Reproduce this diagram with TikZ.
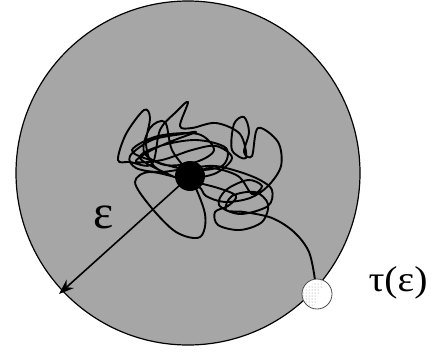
\documentclass[tikz,border=0pt]{standalone}
\usepackage{fontspec}
\setmainfont{Liberation Serif}
\usetikzlibrary{arrows.meta,patterns,calc}
\definecolor{ballGray}{RGB}{166,166,166}

\begin{document}
\begin{tikzpicture}[
    x=1pt, y=-1pt,
    walk/.style={line width=1.9pt, line join=round},
    >={Stealth[length=15pt,width=11pt]}
  ]
  \useasboundingbox (0,0) rectangle (435,356);
  % the ball
  \node[circle, draw, line width=1.2pt, fill=ballGray, minimum size=344pt, inner sep=0pt]
    (ball) at (188,173) {};
  % the wandering path
  \draw[walk] plot[smooth, tension=0.55] coordinates {
    (190,176) (210,168) (238,176) (252,194) (262,186) (248,180) (226,190)
    (219,205) (240,214) (268,206) (272,190) (260,180) (240,172) (215,166)
    (190,168) (160,172) (136,168) (130,156) (152,140) (182,134) (196,132)
    (172,141) (148,152) (136,162) (162,160) (192,150) (216,146) (232,158)
    (214,174) (180,178) (154,166) (146,144) (150,118) (144,110) (126,134)
    (118,160) (130,162) (152,164) (160,130) (176,112) (188,102) (180,126)
    (192,128) (216,123) (240,134) (246,158) (232,150) (234,124) (244,117)
    (249,132) (244,152) (252,156) (258,128) (278,142) (281,166) (268,186)
    (250,198) (225,202) (206,196) (198,186) (170,175) (140,158) (160,146)
    (196,140) (226,148) (222,166) (190,170) (150,160) (132,150) (158,136)
    (198,134) (214,150) (196,162) (165,165) (144,152) (150,128) (165,122)
    (172,150) (190,176) (205,214) (200,237) (176,232) (150,206) (135,182)
    (150,172) (186,180) (218,188) (236,196) (228,206) (215,212) (218,225)
    (240,230) (262,222) (268,204) (255,192) (232,196) (226,210) (244,212)
    (272,218) (294,232) (309,252) (315,280)};
  % start point and exit point
  \node[circle, fill=black, minimum size=30pt, inner sep=0pt] (start) at (190,176) {};
  \coordinate (hit) at (59,294);
  \draw[->, line width=1.6pt] (start.center) -- (hit);
  \node[circle, draw=black!70, line width=0.8pt, fill=white, minimum size=30pt, inner sep=0pt]
    (exit) at (317,294) {};
  \begin{scope}
    \clip (exit.center) circle (14pt);
    \fill[pattern=dots, pattern color=black!45] ($(exit.center)+(-16,-4)$) -- ($(exit.center)+(8,-16)$)
      -- ($(exit.center)+(-4,16)$) -- ($(exit.center)+(-16,16)$) -- cycle;
  \end{scope}
  \node[font=\fontsize{48}{48}\selectfont] (radius) at (104,217) {ε};
  \node[font=\fontsize{36}{36}\selectfont, xscale=1.1] (time) at (398,283) {τ(ε)};
\end{tikzpicture}
\end{document}
